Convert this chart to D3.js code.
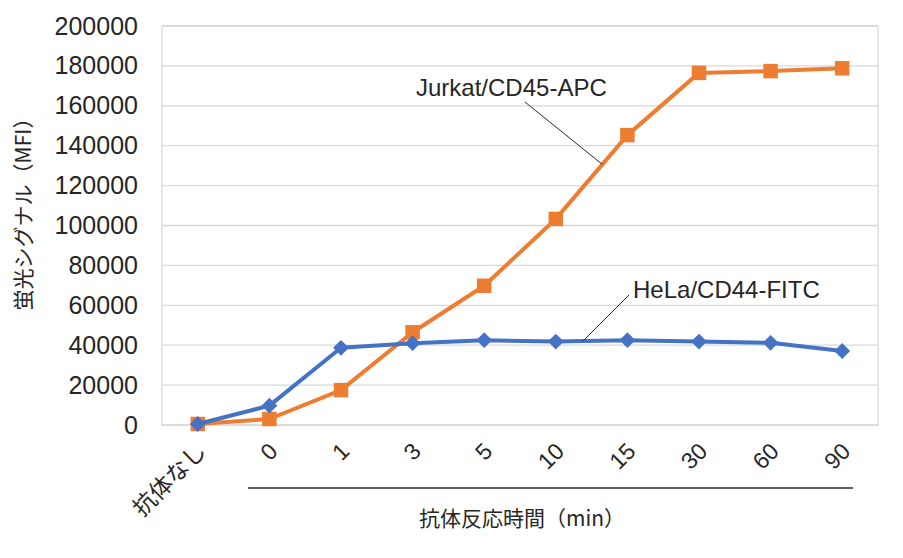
<!DOCTYPE html>
<html>
<head>
<meta charset="utf-8">
<script src="https://cdn.jsdelivr.net/npm/d3@7"></script>
<style>
  body { margin: 0; background: #fff; }
  text { font-family: "Liberation Sans", Arial, "Noto Sans CJK JP", sans-serif; fill: #262626; }
  .jp { font-family: "Noto Sans CJK JP", "Liberation Sans", sans-serif; }
</style>
</head>
<body>
<div id="chart"></div>
<script>
// categories along the x axis
const categories = ["抗体なし", "0", "1", "3", "5", "10", "15", "30", "60", "90"];
// Jurkat/CD45-APC (orange, squares)
const jurkatValues = [500, 3000, 17500, 46500, 69800, 103300, 145300, 176500, 177400, 178800];
// HeLa/CD44-FITC (blue, diamonds)
const helaValues = [500, 9700, 38700, 41000, 42500, 41800, 42500, 41800, 41200, 37100];
const yTicks = [0, 20000, 40000, 60000, 80000, 100000, 120000, 140000, 160000, 180000, 200000];

const width = 903, height = 558;
const margin = {top: 26, right: 25, bottom: 133, left: 162};

const svg = d3.select("#chart").append("svg")
    .attr("width", width)
    .attr("height", height);

const x = d3.scaleBand()
    .domain(categories)
    .range([margin.left, width - margin.right])
    .padding(0);

const y = d3.scaleLinear()
    .domain([0, 200000])
    .range([height - margin.bottom, margin.top]);

const cx = d => x(d) + x.bandwidth() / 2;

// gridlines
svg.append("g")
    .selectAll("line")
    .data(yTicks)
    .enter().append("line")
    .attr("x1", margin.left)
    .attr("x2", width - margin.right)
    .attr("y1", d => y(d))
    .attr("y2", d => y(d))
    .attr("stroke", "#d9d9d9")
    .attr("stroke-width", 1.3);

// plot border
svg.append("rect")
    .attr("x", margin.left)
    .attr("y", y(200000))
    .attr("width", width - margin.right - margin.left)
    .attr("height", y(0) - y(200000))
    .attr("fill", "none")
    .attr("stroke", "#d9d9d9")
    .attr("stroke-width", 1.3);

// y axis labels
const yAxis = d3.axisLeft(y).tickValues(yTicks).tickSize(0).tickPadding(0).tickFormat(d3.format("d"));
svg.append("g")
    .attr("class", "y-axis")
    .attr("transform", "translate(" + (margin.left - 24) + ",0)")
    .call(yAxis)
    .call(g => g.select(".domain").remove())
    .selectAll("text")
    .style("font-size", "25px")
    .style("font-family", "'Liberation Sans', Arial, sans-serif")
    .attr("fill", "#262626");

// x axis labels (rotated)
svg.append("g")
    .selectAll("text")
    .data(categories)
    .enter().append("text")
    .attr("class", (d, i) => i === 0 ? "jp" : null)
    .attr("transform", d => "translate(" + (cx(d) + 4) + "," + 447 + ") rotate(-45)")
    .attr("text-anchor", "end")
    .attr("dy", "0.35em")
    .style("font-size", "23px")
    .text(d => d);

// bracket line under the time labels
svg.append("line")
    .attr("x1", 248).attr("x2", 853)
    .attr("y1", 488).attr("y2", 488)
    .attr("stroke", "#262626")
    .attr("stroke-width", 1.3);

// axis titles
svg.append("text")
    .attr("class", "jp")
    .attr("x", 522).attr("y", 526)
    .attr("text-anchor", "middle")
    .style("font-size", "21px")
    .text("抗体反応時間（min）");

svg.append("text")
    .attr("class", "jp")
    .attr("transform", "translate(31,209) rotate(-90)")
    .attr("text-anchor", "middle")
    .style("font-size", "21px")
    .text("蛍光シグナル（MFI）");

// lines
const line = d3.line()
    .x((d, i) => cx(categories[i]))
    .y(d => y(d));

const series = [
    {name: "Jurkat/CD45-APC", values: jurkatValues, color: "#ED7D31", size: 210, rot: 0},
    {name: "HeLa/CD44-FITC", values: helaValues, color: "#4472C4", size: 125, rot: 45}
];

series.forEach(s => {
    svg.append("path")
        .datum(s.values)
        .attr("fill", "none")
        .attr("stroke", s.color)
        .attr("stroke-width", 4)
        .attr("stroke-linejoin", "round")
        .attr("d", line);

    svg.append("g")
        .selectAll("path")
        .data(s.values)
        .enter().append("path")
        .attr("transform", (d, i) => "translate(" + cx(categories[i]) + "," + y(d) + ") rotate(" + s.rot + ")")
        .attr("d", d3.symbol().type(d3.symbolSquare).size(s.size))
        .attr("fill", s.color);
});

// data labels with leader lines
function along(values, i, t) {
    const x0 = cx(categories[i]), x1 = cx(categories[i + 1]);
    const y0 = y(values[i]), y1 = y(values[i + 1]);
    return [x0 + (x1 - x0) * t, y0 + (y1 - y0) * t];
}

const jp = along(jurkatValues, 5, 0.65);
svg.append("line")
    .attr("x1", 525).attr("y1", 102)
    .attr("x2", jp[0]).attr("y2", jp[1])
    .attr("stroke", "#1f2a4a").attr("stroke-width", 1);
svg.append("text")
    .attr("x", 416).attr("y", 96)
    .style("font-size", "24px")
    .text("Jurkat/CD45-APC");

const hp = along(helaValues, 5, 0.38);
svg.append("line")
    .attr("x1", 629).attr("y1", 295)
    .attr("x2", hp[0]).attr("y2", hp[1])
    .attr("stroke", "#1f2a4a").attr("stroke-width", 1);
svg.append("text")
    .attr("x", 633).attr("y", 298)
    .style("font-size", "24px")
    .text("HeLa/CD44-FITC");
</script>
</body>
</html>
